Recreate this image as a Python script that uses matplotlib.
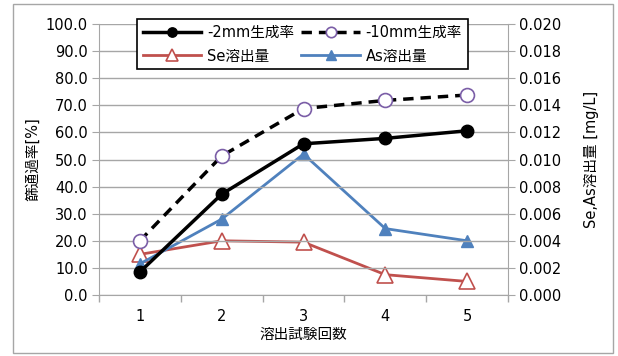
import matplotlib
matplotlib.use("Agg")
import matplotlib.pyplot as plt
from matplotlib.patches import Rectangle

plt.rcParams['font.family'] = ['DejaVu Sans', 'Noto Sans CJK JP']

runs = [1, 2, 3, 4, 5]
pass_2mm = [8.5, 37.2, 55.8, 57.8, 60.6]
pass_10mm = [20.0, 51.3, 68.8, 71.8, 73.8]
se_leach = [0.0030, 0.0040, 0.0039, 0.0015, 0.0010]
as_leach = [0.0023, 0.0056, 0.0104, 0.0049, 0.0040]
left_ticks = [0, 10, 20, 30, 40, 50, 60, 70, 80, 90, 100]
right_ticks = [0.000, 0.002, 0.004, 0.006, 0.008, 0.010, 0.012, 0.014, 0.016, 0.018, 0.020]

fig = plt.figure(figsize=(6.18, 3.56), dpi=100)
fig.patches.append(Rectangle((13/618, 3/356), 600/618, 349/356, transform=fig.transFigure,
                             fill=False, edgecolor='#a6a6a6', linewidth=1))
ax = fig.add_axes([99/618, 1 - 295/356, (508 - 99)/618, (295 - 24)/356])
ax2 = ax.twinx()

grid_c = '#a6a6a6'
fs = 10.5

l1, = ax.plot(runs, pass_2mm, color='black', lw=2.5, marker='o', ms=9,
              mfc='black', mec='black', label='-2mm生成率', zorder=5)
l2, = ax.plot(runs, pass_10mm, color='black', lw=2.5, ls=(0, (3, 2)), marker='o', ms=10,
              mfc='white', mec='#7b5ea7', mew=1.2, label='-10mm生成率', zorder=5)
l3, = ax2.plot(runs, se_leach, color='#c0504d', lw=2, marker='^', ms=11,
               mfc='white', mec='#c0504d', mew=1.2, label='Se溶出量', zorder=4)
l4, = ax2.plot(runs, as_leach, color='#4f81bd', lw=2, marker='^', ms=9,
               mfc='#4f81bd', mec='#4f81bd', label='As溶出量', zorder=4)

ax.set_zorder(ax2.get_zorder() + 1)
ax.patch.set_visible(False)

ax.set_xlim(0.5, 5.5)
ax.set_ylim(0, 100)
ax2.set_ylim(0, 0.02)
ax.set_xticks(runs)
ax.set_xticks([0.5, 1.5, 2.5, 3.5, 4.5, 5.5], minor=True)
ax.tick_params(axis='x', which='major', length=0, labelsize=fs, pad=10)
ax.tick_params(axis='x', which='minor', length=5, color=grid_c, width=1)
ax.set_yticks(left_ticks)
ax.set_yticklabels([f'{v:.1f}' for v in left_ticks])
ax.tick_params(axis='y', length=5, color=grid_c, labelsize=fs, pad=3)
ax2.set_yticks(right_ticks)
ax2.set_yticklabels([f'{v:.3f}' for v in right_ticks])
ax2.tick_params(axis='y', length=5, color=grid_c, labelsize=fs, pad=3)

ax.grid(axis='y', color=grid_c, lw=1)
ax.set_axisbelow(True)
for a in (ax, ax2):
    for s in a.spines.values():
        s.set_visible(False)
ax.spines['left'].set_visible(True)
ax.spines['left'].set_color(grid_c)
ax.spines['bottom'].set_visible(True)
ax.spines['bottom'].set_color(grid_c)
ax2.spines['right'].set_visible(True)
ax2.spines['right'].set_color(grid_c)

ax.set_xlabel('溶出試験回数', fontsize=fs, labelpad=2)
ax.set_ylabel('篩通過率[%]', fontsize=fs, labelpad=4)
ax2.set_ylabel('Se,As溶出量 [mg/L]', fontsize=fs, rotation=90, labelpad=16)

leg = ax.legend(handles=[l1, l3, l2, l4], ncol=2, loc='upper left',
                bbox_to_anchor=((137 - 99) / 409, 1 + (24 - 19) / 271),
                borderaxespad=0,
                fontsize=fs, frameon=True, fancybox=False, edgecolor='black',
                framealpha=1, borderpad=0.4, handlelength=4.0, columnspacing=0.5,
                labelspacing=0.6, handletextpad=0.4, markerscale=0.75)
leg.get_frame().set_linewidth(1.2)
leg.set_zorder(10)

fig.savefig('out.png', dpi=100)
